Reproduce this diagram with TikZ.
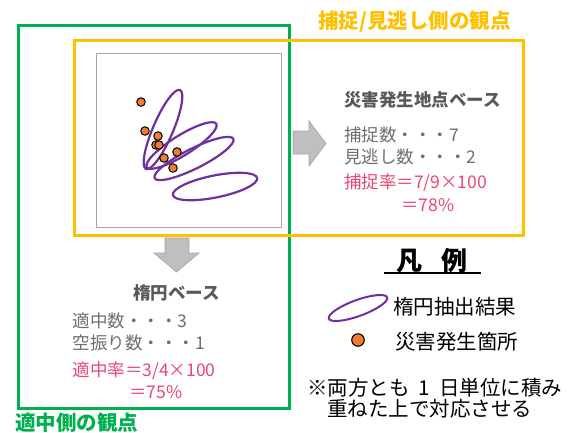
\documentclass[tikz,border=0pt]{standalone}
\usepackage{fontspec}
\setmainfont{Noto Sans CJK JP}
\definecolor{gold}{HTML}{FFC000}
\definecolor{grn}{HTML}{00B050}
\definecolor{purp}{HTML}{7030A0}
\definecolor{orng}{HTML}{ED7D31}
\definecolor{redtx}{HTML}{E9476F}
\definecolor{bodygray}{HTML}{6E6E6E}
\definecolor{hdrgray}{HTML}{595959}
\definecolor{arrfill}{HTML}{BFBFBF}
\definecolor{arrline}{HTML}{A6A6A6}
\tikzset{
  boxnode/.style={draw, inner sep=0pt, anchor=north west},
  txt/.style={inner sep=0pt, anchor=west, font=\fontsize{17.5}{20}\selectfont, text=bodygray},
  hdr/.style={inner sep=0pt, anchor=west, font=\fontsize{17.5}{20}\selectfont\bfseries, text=hdrgray},
  redtxt/.style={txt, text=redtx},
  ttl/.style={inner sep=0pt, anchor=west, font=\fontsize{20.5}{24}\selectfont\bfseries},
  lgd/.style={inner sep=0pt, anchor=west, font=\fontsize{20.5}{24}\selectfont, text=black},
  ell/.style={draw=purp, line width=2.2pt},
  dot/.style={circle, draw=black, fill=orng, line width=1pt, inner sep=0pt, minimum size=8.5pt},
  blockarrow/.style={fill=arrfill, draw=arrline, line width=0.7pt}
}
\begin{document}
\begin{tikzpicture}[x=1pt,y=-1pt]
\useasboundingbox (0,0) rectangle (569,432);
% boxes
\node[boxnode, draw=grn, line width=2.6pt, minimum width=271pt, minimum height=383pt] (green) at (17,24) {};
\node[boxnode, draw=gold, line width=2.8pt, minimum width=449pt, minimum height=195pt] (yellow) at (73,39) {};
\node[boxnode, draw=arrline, line width=1.4pt, minimum width=185pt, minimum height=174pt] (map) at (96,53) {};
% titles
\node[ttl, text=gold] (ytitle) at (318,22) {捕捉/見逃し側の観点};
\node[ttl, text=grn] (gtitle) at (15,423) {適中側の観点};
% ellipses
\draw[ell, rotate around={66.7:(163,129.5)}] (163,129.5) ellipse [x radius=43, y radius=10];
\draw[ell, rotate around={32:(181.5,145.5)}] (181.5,145.5) ellipse [x radius=41, y radius=10];
\draw[ell, rotate around={26.6:(194,158.5)}] (194,158.5) ellipse [x radius=44, y radius=10];
\draw[ell, rotate around={11.4:(215,186.5)}] (215,186.5) ellipse [x radius=43, y radius=11];
% dots
\node[dot] (d1) at (141,102) {};
\node[dot] (d2) at (145,131) {};
\node[dot] (d3) at (158,136) {};
\node[dot] (d4) at (156,145) {};
\node[dot] (d5) at (159,145) {};
\node[dot] (d6) at (177,152) {};
\node[dot] (d7) at (164,158) {};
\node[dot] (d8) at (173,168) {};
% arrows
\draw[blockarrow] (293,131) -- (309,131) -- (309,121) -- (326,143.5) -- (309,166) -- (309,154) -- (293,154) -- cycle;
\draw[blockarrow] (165,238) -- (189,238) -- (189,253) -- (199,253) -- (176.5,272) -- (154,253) -- (165,253) -- cycle;
% right texts
\node[hdr] (h1) at (344,100) {災害発生地点ベース};
\node[txt] (t1) at (344,135) {捕捉数・・・7};
\node[txt] (t2) at (344,157) {見逃し数・・・2};
\node[redtxt] (t3) at (344,183) {捕捉率＝7/9×100};
\node[redtxt] (t4) at (401,205) {＝78\%};
% bottom-left texts
\node[hdr] (h2) at (133,293) {楕円ベース};
\node[txt] (b1) at (72.5,321) {適中数・・・3};
\node[txt] (b2) at (72.5,343) {空振り数・・・1};
\node[redtxt] (b3) at (72.5,371) {適中率＝3/4×100};
\node[redtxt] (b4) at (129,392) {＝75\%};
% legend
\node[inner sep=0pt, anchor=west, font=\fontsize{26}{30}\selectfont\bfseries] (lgtitle) at (396,261) {凡\hspace{19pt}例};
\coordinate (ul1) at (384,273);
\coordinate (ul2) at (481,273);
\draw[line width=1.8pt] (ul1) -- (ul2);
\draw[ell, line width=2pt, rotate around={20:(358,308)}] (358,308) ellipse [x radius=31, y radius=8];
\node[lgd] (l1) at (393,307) {楕円抽出結果};
\node[dot, minimum size=12.5pt, line width=1.1pt] (ldot) at (358,340) {};
\node[lgd] (l2) at (395,342) {災害発生箇所};
\node[lgd] (n1) at (307,388) {※両方とも\hspace{9pt}1\hspace{9pt}日単位に積み};
\node[lgd] (n2) at (327,409) {重ねた上で対応させる};
\end{tikzpicture}
\end{document}
